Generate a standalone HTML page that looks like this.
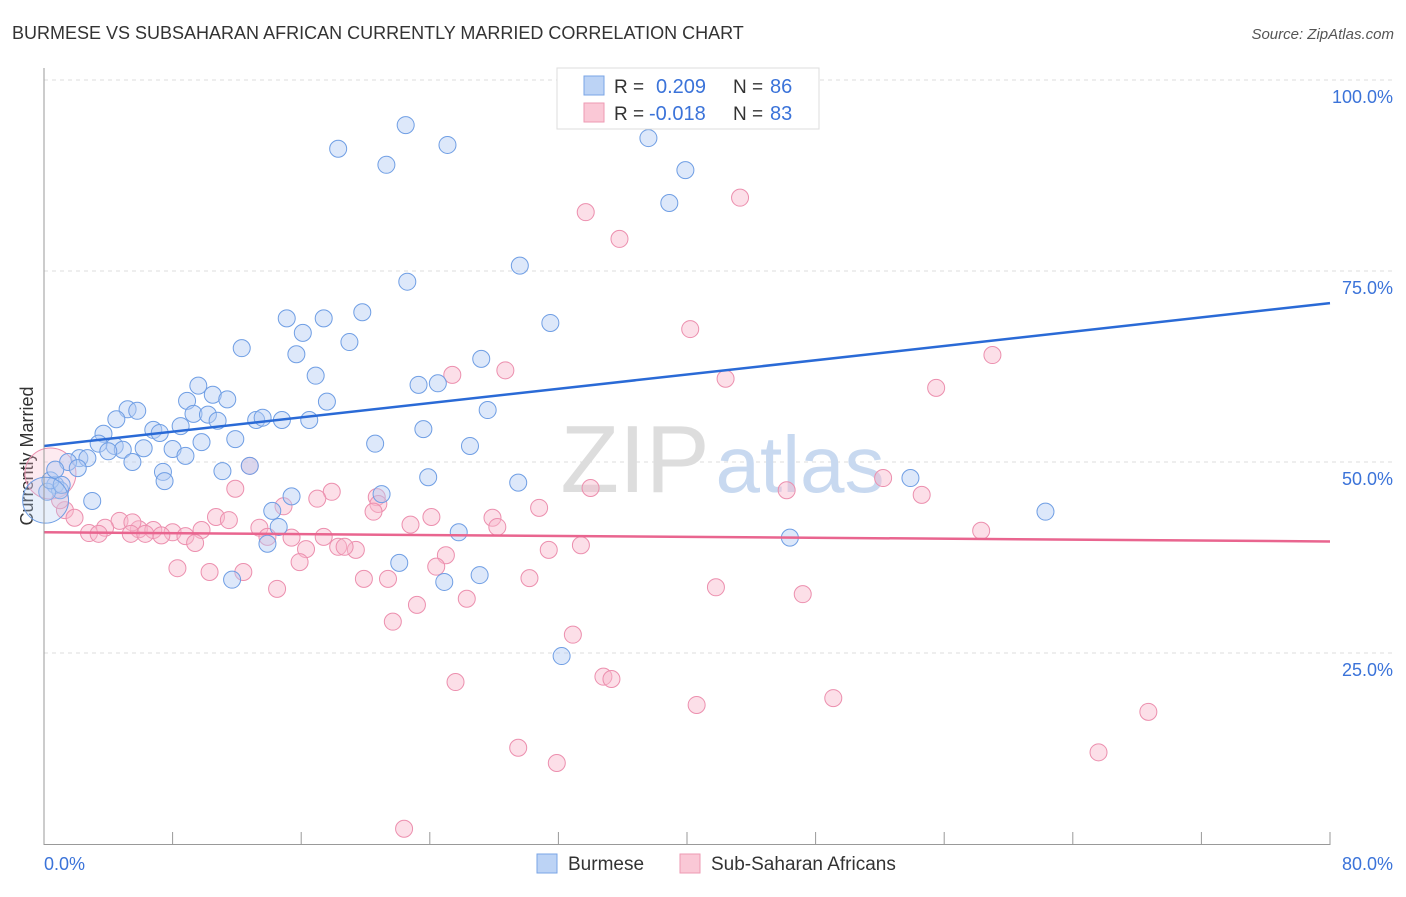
<!DOCTYPE html>
<html><head><meta charset="utf-8">
<style>
body{margin:0;background:#fff;font-family:"Liberation Sans",sans-serif;}
svg text{font-family:"Liberation Sans",sans-serif;}
</style></head>
<body>
<svg id="chart" width="1406" height="892" xmlns="http://www.w3.org/2000/svg">
<text x="12" y="39" font-size="18" fill="#333">BURMESE VS SUBSAHARAN AFRICAN CURRENTLY MARRIED CORRELATION CHART</text>
<text x="1394" y="39" font-size="15" fill="#555" font-style="italic" text-anchor="end">Source: ZipAtlas.com</text>
<text x="33" y="456" font-size="18" fill="#333" text-anchor="middle" transform="rotate(-90 33 456)">Currently Married</text>
<g id="grid"></g>
<g>
<text x="635" y="492" font-size="96" fill="#ddd" font-family="Liberation Serif" text-anchor="middle">ZIP</text>
<text x="800" y="492" font-size="80" fill="#c8d9f0" text-anchor="middle">atlas</text>
</g>
<g id="pts"></g>
<g id="trends"></g>
<line x1="44" y1="68" x2="44" y2="845" stroke="#999" stroke-width="1"/>
<line x1="44" y1="844.5" x2="1330" y2="844.5" stroke="#999" stroke-width="1"/>
<g id="xticks"></g>
<text x="44" y="870" font-size="18" fill="#3b73d9">0.0%</text>
<text x="1393" y="870" font-size="18" fill="#3b73d9" text-anchor="end">80.0%</text>
<g>
<rect x="557" y="68" width="262" height="61" fill="#fff" stroke="#ddd"/>
<rect x="584" y="76" width="20" height="19" fill="#bcd3f5" stroke="#7aa4e6"/>
<rect x="584" y="103" width="20" height="19" fill="#fac8d6" stroke="#ee9ab3"/>
<text x="614" y="93" font-size="19" fill="#333">R =</text>
<text x="656" y="93" font-size="20" fill="#3b73d9">0.209</text>
<text x="733" y="93" font-size="19" fill="#333">N =</text>
<text x="770" y="93" font-size="20" fill="#3b73d9">86</text>
<text x="614" y="120" font-size="19" fill="#333">R =</text>
<text x="649" y="120" font-size="20" fill="#3b73d9">-0.018</text>
<text x="733" y="120" font-size="19" fill="#333">N =</text>
<text x="770" y="120" font-size="20" fill="#3b73d9">83</text>
</g>
<g>
<rect x="537" y="854" width="20" height="19" fill="#bcd3f5" stroke="#7aa4e6"/>
<text x="568" y="870" font-size="19" fill="#333">Burmese</text>
<rect x="680" y="854" width="20" height="19" fill="#fac8d6" stroke="#ee9ab3"/>
<text x="711" y="870" font-size="19" fill="#333">Sub-Saharan Africans</text>
</g>
</svg>
<script>
const yTicks=[25,50,75,100];
const yTickLabels=["25.0%","50.0%","75.0%","100.0%"];
const xTicks=[0,8,16,24,32,40,48,56,64,72,80];
const burmeseX=[22.5,18.3,25.1,21.3,37.6,39.9,38.9,29.6,22.6,19.8,15.1,17.4,16.1,19.0,31.5,12.3,15.7,16.9,27.2,23.3,24.5,9.6,8.9,10.5,11.4,17.6,27.6,5.2,5.8,9.3,10.2,4.5,10.8,13.2,13.6,14.8,16.5,6.8,8.5,7.2,3.7,11.9,9.8,20.6,23.6,26.5,3.4,4.4,6.2,8.0,4.9,4.0,8.8,5.5,2.2,2.7,1.5,2.1,12.8,11.1,7.4,7.5,23.9,29.5,53.9,0.7,1.0,0.2,3.0,15.4,21.0,14.2,14.6,25.8,13.9,46.4,62.3,22.1,27.1,24.9,11.7,32.2,0.4,0.7,1.1,0.1];
const burmeseY=[94.1,91.0,91.5,88.9,92.4,88.2,83.9,75.7,73.6,69.6,68.8,68.8,66.9,65.7,68.2,64.9,64.1,61.3,63.5,60.1,60.3,60.0,58.0,58.8,58.2,57.9,56.8,56.9,56.7,56.3,56.2,55.6,55.4,55.5,55.8,55.5,55.5,54.2,54.7,53.8,53.7,53.0,52.6,52.4,54.3,52.1,52.4,52.1,51.8,51.7,51.6,51.4,50.8,50.0,50.5,50.5,50.0,49.2,49.5,48.8,48.7,47.5,48.0,47.3,47.9,47.0,46.3,46.1,44.9,45.5,45.8,43.6,41.5,40.8,39.3,40.1,43.5,36.8,35.2,34.3,34.6,24.6,47.6,49.0,47.0,45.0];
const burmeseSize=[];burmeseSize[85]=2.7;
const africanX=[22.4,43.3,33.7,35.8,40.2,59.0,28.7,25.4,42.4,55.5,12.8,52.2,34.0,46.2,54.6,11.9,17.9,17.0,20.7,20.8,30.8,14.9,20.5,24.1,10.7,11.5,27.9,4.7,28.2,22.8,13.4,5.9,5.5,3.8,6.8,8.0,9.8,5.4,2.8,3.4,6.3,7.3,8.8,13.9,15.4,17.4,58.3,33.4,31.4,9.4,18.3,19.4,18.7,16.3,25.0,15.9,24.4,8.3,10.3,12.4,19.9,21.4,30.2,41.8,14.5,47.2,26.3,23.2,21.7,32.9,34.8,35.3,25.6,49.1,40.6,68.7,65.6,29.5,31.9,0.4,1.3,1.9,1.0];
const africanY=[2.0,84.6,82.7,79.2,67.4,64.0,62.0,61.4,60.9,59.7,49.5,47.9,46.6,46.3,45.7,46.5,46.1,45.2,45.4,44.5,44.0,44.2,43.5,42.8,42.8,42.4,42.7,42.3,41.5,41.8,41.4,41.2,42.1,41.4,41.1,40.8,41.1,40.6,40.7,40.6,40.6,40.4,40.3,40.2,40.1,40.2,41.0,39.1,38.5,39.4,38.9,38.5,38.9,38.6,37.8,36.9,36.3,36.1,35.6,35.6,34.7,34.7,34.8,33.6,33.4,32.7,32.1,31.3,29.1,27.4,21.9,21.6,21.2,19.1,18.2,17.3,12.0,12.6,10.6,48.5,43.7,42.7,45.0];
const africanSize=[];africanSize[79]=3;
const burmeseTrend=[52.1,70.8];
const africanTrend=[40.8,39.6];
const NS="http://www.w3.org/2000/svg";
const X0=44,X1=1330,Y0=844,PX=(X1-X0)/80,PY=7.64;
function sx(v){return X0+v*PX;}
function sy(v){return Y0-v*PY;}
function mk(tag,attrs,parent){const e=document.createElementNS(NS,tag);for(const k in attrs)e.setAttribute(k,attrs[k]);parent.appendChild(e);return e;}
const grid=document.getElementById('grid');
yTicks.forEach((t,i)=>{
 const l=mk('line',{x1:44,x2:1393,y1:sy(t),y2:sy(t),stroke:'#ddd','stroke-dasharray':'4 4'},grid);
 
 
 const tx=mk('text',{x:1393,y:sy(t)+23,'font-size':18,fill:'#3b73d9','text-anchor':'end'},grid);
 tx.textContent=yTickLabels[i];
 
 
});
const xt=document.getElementById('xticks');
xTicks.forEach(t=>{
 const l=mk('line',{x1:sx(t),x2:sx(t),y1:832,y2:845,stroke:'#999'},xt);
 
 
});
const pts=document.getElementById('pts');
function drawSeries(xs,ys,sz,fill,stroke,name){
 xs.forEach((x,i)=>{
  const r=8.5*(sz[i]||1);
  const c=mk('circle',{cx:sx(x),cy:sy(ys[i]),r:r,fill:fill,'fill-opacity':sz[i]?0.3:0.45,stroke:stroke,'stroke-width':1},pts);
  
  
 });
}
drawSeries(africanX,africanY,africanSize,'#f8b9cc','#ec8fae','point-subsaharan');
drawSeries(burmeseX,burmeseY,burmeseSize,'#b3cdf3','#6f9ee4','point-burmese');
const tr=document.getElementById('trends');
const bl=mk('line',{x1:sx(0),y1:sy(burmeseTrend[0]),x2:sx(80),y2:sy(burmeseTrend[1]),stroke:'#2a6ad6','stroke-width':2.5},tr);


const al=mk('line',{x1:sx(0),y1:sy(africanTrend[0]),x2:sx(80),y2:sy(africanTrend[1]),stroke:'#e9658f','stroke-width':2.5},tr);


</script>
</body></html>
